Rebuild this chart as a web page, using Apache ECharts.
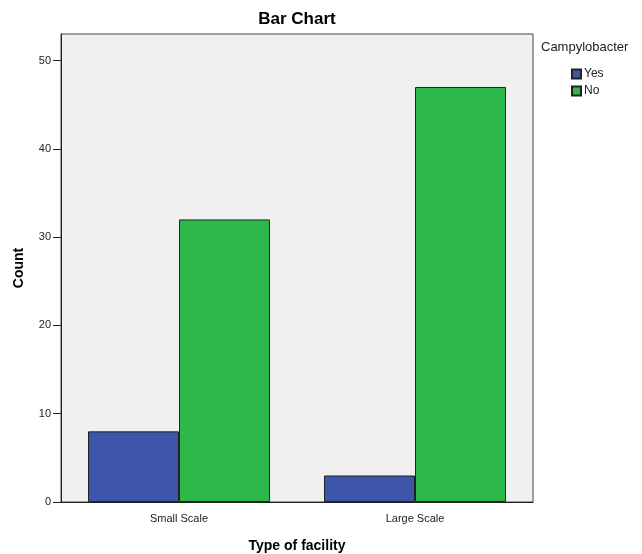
<!DOCTYPE html>
<html><head><meta charset="utf-8">
<script src="https://cdn.jsdelivr.net/npm/echarts@6/dist/echarts.min.js"></script>
<style>html,body{margin:0;padding:0;background:#fff}#c{width:642px;height:554px}</style>
</head><body><div id="c"></div>
<script>
var categories = ['Small Scale', 'Large Scale'];
var seriesNames = ['Yes', 'No'];
var yesValues = [8, 3];
var noValues = [32, 47];
var yTicks = [0, 10, 20, 30, 40, 50];

var chart = echarts.init(document.getElementById('c'));
var font = 'Arial, "Liberation Sans", sans-serif';
chart.setOption({
  animation: false,
  title: [
    { text: 'Bar Chart', left: 297, top: 11, textAlign: 'center', padding: 0,
      textStyle: { fontFamily: font, fontSize: 17, fontWeight: 'bold', color: '#000' } },
    { text: 'Campylobacter', left: 541, top: 41, padding: 0,
      textStyle: { fontFamily: font, fontSize: 13, fontWeight: 'normal', color: '#222' } }
  ],
  legend: {
    orient: 'vertical', left: 571, top: 68, padding: 0,
    itemWidth: 9, itemHeight: 9, itemGap: 5,
    icon: 'rect',
    data: seriesNames,
    textStyle: { fontFamily: font, fontSize: 12, color: '#222', padding: [0, 0, 0, -2] }
  },
  grid: { left: 61, right: 109, top: 34, bottom: 52, show: true, backgroundColor: '#f0f0f0',
    borderColor: '#444', borderWidth: 1, outerBoundsMode: 'none', containLabel: false },
  xAxis: {
    type: 'category', data: categories,
    name: 'Type of facility', nameLocation: 'middle', nameGap: 37,
    nameTextStyle: { fontFamily: font, fontSize: 14, fontWeight: 'bold', color: '#000' },
    axisLine: { lineStyle: { color: '#222' } },
    axisTick: { alignWithLabel: true, length: 8, lineStyle: { color: '#222' } },
    axisLabel: { fontFamily: font, fontSize: 11, color: '#222', margin: 11 },
    splitLine: { show: false }
  },
  yAxis: {
    type: 'value', min: 0, max: 53, interval: 10,
    name: 'Count', nameLocation: 'middle', nameGap: 35,
    nameTextStyle: { fontFamily: font, fontSize: 14, fontWeight: 'bold', color: '#000' },
    axisLine: { show: true, lineStyle: { color: '#222' } },
    axisTick: { show: true, length: 8, customValues: yTicks, lineStyle: { color: '#222' } },
    axisLabel: { fontFamily: font, fontSize: 11, color: '#222', margin: 10, customValues: yTicks },
    splitLine: { show: false }
  },
  series: [
    { name: seriesNames[0], type: 'bar', data: yesValues, barWidth: 91, barGap: '0%',
      itemStyle: { color: '#3d56aa', borderColor: '#222', borderWidth: 1 } },
    { name: seriesNames[1], type: 'bar', data: noValues, barWidth: 91, barGap: '0%',
      itemStyle: { color: '#2db84b', borderColor: '#222', borderWidth: 1 } }
  ]
});
</script></body></html>
